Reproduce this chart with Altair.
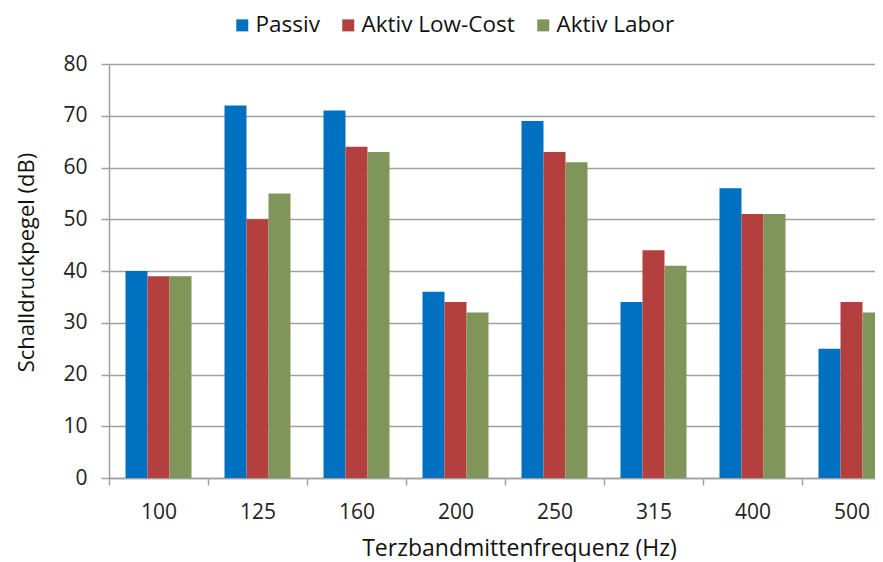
import altair as alt
import pandas as pd

categories = ["100", "125", "160", "200", "250", "315", "400", "500"]
series = ["Passiv", "Aktiv Low-Cost", "Aktiv Labor"]
passiv = [40, 72, 71, 36, 69, 34, 56, 25]
aktiv_low_cost = [39, 50, 64, 34, 63, 44, 51, 34]
aktiv_labor = [39, 55, 63, 32, 61, 41, 51, 32]
colors = ["#0070C0", "#B3403F", "#80955A"]

rows = []
for name, vals in zip(series, [passiv, aktiv_low_cost, aktiv_labor]):
    for c, v in zip(categories, vals):
        rows.append({"Frequenz": c, "Serie": name, "Wert": v})
df = pd.DataFrame(rows)

FONT = "Open Sans"

chart = alt.Chart(df).mark_bar().encode(
    x=alt.X(
        "Frequenz:N",
        sort=categories,
        scale=alt.Scale(range=[0, 792], paddingInner=1/3, paddingOuter=1/6),
        axis=alt.Axis(
            title="Terzbandmittenfrequenz (Hz)",
            labelAngle=0,
            bandPosition=0,
            tickOffset=-16.5,
            labelOffset=16.5,
            grid=False,
            tickSize=7,
            labelPadding=16,
            titleX=410,
            titleY=77,
            titleBaseline="alphabetic",
            titleAnchor="start",
            titleAlign="center",
            titleFontSize=23,
        ),
    ),
    xOffset=alt.XOffset("Serie:N", sort=series, scale=alt.Scale(paddingInner=0, paddingOuter=0)),
    y=alt.Y(
        "Wert:Q",
        scale=alt.Scale(domain=[0, 80], nice=False),
        axis=alt.Axis(
            title="Schalldruckpegel (dB)",
            values=list(range(0, 81, 10)),
            tickSize=8,
            labelPadding=14,
            titleX=-76,
            titleY=198,
            titleBaseline="alphabetic",
            titleAlign="center",
            titleAngle=-90,
            titleFontSize=22,
        ),
    ),
    color=alt.Color(
        "Serie:N",
        sort=series,
        scale=alt.Scale(domain=series, range=colors),
        legend=alt.Legend(
            title=None,
            orient="none",
            direction="horizontal",
            legendX=122,
            legendY=-50,
            symbolType="square",
            symbolSize=144,
            symbolStrokeWidth=0,
            labelOffset=2,
            columnPadding=17,
            labelFont=FONT,
            labelFontSize=22.5,
            labelLimit=400,
            labelColor="#111111",
            padding=0,
        ),
    ),
).properties(
    width=766,
    height=414,
    autosize=alt.AutoSizeParams(type="none"),
    padding={"left": 101, "top": 56, "right": 0, "bottom": 84},
).configure_view(
    stroke=None
).configure_axis(
    labelFont=FONT,
    titleFont=FONT,
    labelFontSize=21,
    titleFontWeight="normal",
    labelColor="#222222",
    titleColor="#111111",
    domainColor="#a0a0a0",
    tickColor="#a0a0a0",
    gridColor="#a0a0a0",
    domainWidth=1.5,
    tickWidth=1.5,
    gridWidth=1.3,
)

chart.save("out.html", embed_options={"renderer": "svg", "actions": False})
